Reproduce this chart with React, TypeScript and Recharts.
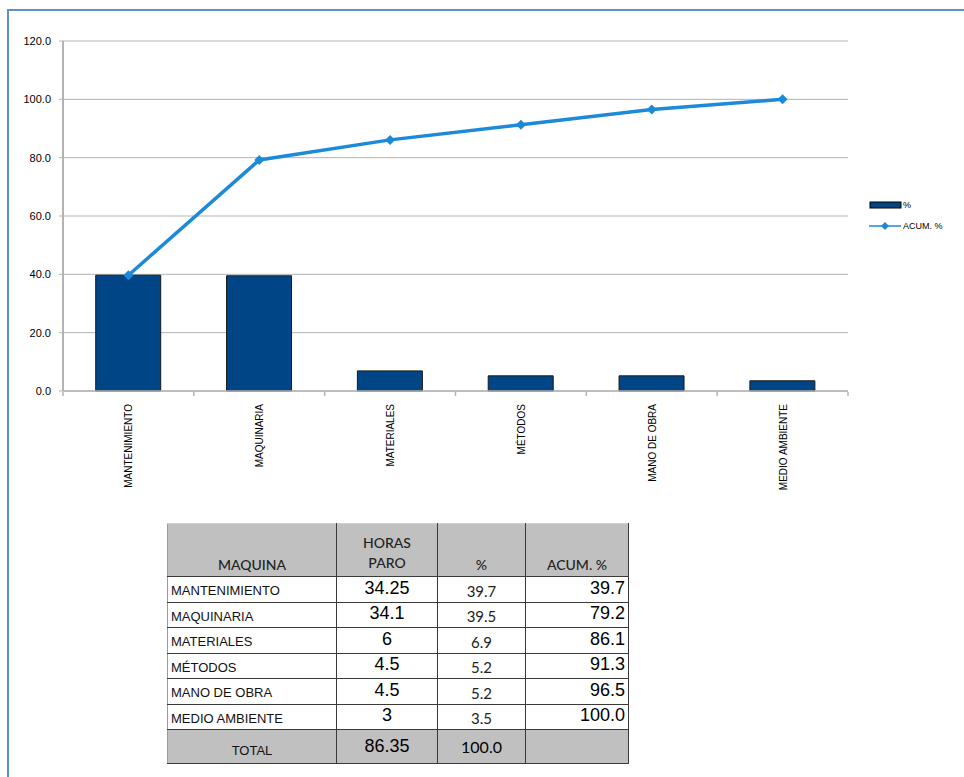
import { ComposedChart, Bar, Line, XAxis, YAxis, CartesianGrid } from 'recharts'

const categories = ['MANTENIMIENTO', 'MAQUINARIA', 'MATERIALES', 'MÉTODOS', 'MANO DE OBRA', 'MEDIO AMBIENTE']
const horas = ['34.25', '34.1', '6', '4.5', '4.5', '3']
const pct = [39.7, 39.5, 6.9, 5.2, 5.2, 3.5]
const acum = [39.7, 79.2, 86.1, 91.3, 96.5, 100.0]
const yTicks = [0, 20, 40, 60, 80, 100, 120]
const totalHoras = '86.35'
const totalPct = '100.0'

const data = categories.map((name, i) => ({ name, pct: pct[i], acum: acum[i] }))

const BAR = '#004586'
const LINE = '#1c8ad8'
const GRID = '#b3b3b3'
const ARIAL = '"Liberation Sans", Arial, sans-serif'
const CALIBRI = 'Lato, "Open Sans", sans-serif'

const CHART_W = 964
const PLOT_LEFT = 63
const PLOT_RIGHT = 848
const band = (PLOT_RIGHT - PLOT_LEFT) / categories.length

function XTick({ x, y, payload, index }: any) {
  return (
    <g>
      <line x1={x - band / 2} y1={y - 7} x2={x - band / 2} y2={y - 3} stroke={GRID} strokeWidth={1.5} />
      {index === categories.length - 1 && (
        <line x1={x + band / 2} y1={y - 7} x2={x + band / 2} y2={y - 3} stroke={GRID} strokeWidth={1.5} />
      )}
      <text
        x={0}
        y={0}
        transform={`translate(${x + 4},${y + 5}) rotate(-90)`}
        textAnchor="end"
        fontSize={10}
        fontFamily={ARIAL}
        fill="#000"
      >
        {payload.value}
      </text>
    </g>
  )
}

function Diamond({ cx, cy }: any) {
  if (cx == null || cy == null) return null
  const r = 5
  return <path d={`M${cx},${cy - r}L${cx + r},${cy}L${cx},${cy + r}L${cx - r},${cy}Z`} fill={LINE} />
}

function LegendBox() {
  return (
    <div style={{ position: 'absolute', left: 869, top: 198, fontFamily: ARIAL, fontSize: 9, color: '#000' }}>
      <div style={{ display: 'flex', alignItems: 'center', height: 14 }}>
        <svg width={34} height={10}>
          <rect x={1} y={2} width={31} height={6} fill={BAR} stroke="#000" strokeWidth={1} />
        </svg>
        <span>%</span>
      </div>
      <div style={{ display: 'flex', alignItems: 'center', height: 14, marginTop: 7 }}>
        <svg width={34} height={10}>
          <line x1={0} y1={5} x2={32} y2={5} stroke={LINE} strokeWidth={1.5} />
          <path d="M16,1L20,5L16,9L12,5Z" fill={LINE} />
        </svg>
        <span>ACUM. %</span>
      </div>
    </div>
  )
}

const cell: React.CSSProperties = {
  borderBottom: '1px solid #3a3a3a',
  borderRight: '1px solid #3a3a3a',
  padding: '0 3px',
  whiteSpace: 'nowrap',
}

export default function App() {
  return (
    <div style={{ position: 'absolute', left: 0, top: 0, width: 964, height: 777, background: '#fff', overflow: 'hidden' }}>
      <div
        style={{
          position: 'absolute',
          left: 7,
          top: 9,
          width: 970,
          height: 790,
          borderTop: '2px solid #5f8fcd',
          borderLeft: '2px solid #5f8fcd',
        }}
      />
      <div style={{ position: 'absolute', left: 0, top: 0 }}>
        <ComposedChart
          width={CHART_W}
          height={520}
          data={data}
          margin={{ top: 41, right: CHART_W - PLOT_RIGHT, bottom: 0, left: 13 }}
          barCategoryGap="25%"
        >
          <CartesianGrid vertical={false} stroke={GRID} strokeWidth={1} />
          <XAxis
            dataKey="name"
            height={129}
            axisLine={{ stroke: GRID, strokeWidth: 1.5 }}
            tickLine={false}
            tick={<XTick />}
            interval={0}
          />
          <YAxis
            domain={[0, 120]}
            ticks={yTicks}
            width={50}
            tickFormatter={(v: number) => v.toFixed(1)}
            tick={{ fontSize: 11, fontFamily: ARIAL, fill: '#000' }}
            axisLine={{ stroke: GRID, strokeWidth: 2 }}
            tickLine={{ stroke: GRID }}
            tickSize={4}
            tickMargin={8}
          />
          <YAxis
            yAxisId="frame"
            orientation="right"
            width={0}
            domain={[0, 120]}
            tick={false}
            tickLine={false}
            axisLine={{ stroke: '#c8c8c8', strokeWidth: 2 }}
          />
          <Bar dataKey="pct" name="%" fill={BAR} stroke="#1a1a1a" strokeWidth={1} isAnimationActive={false} />
          <Line
            dataKey="acum"
            name="ACUM. %"
            stroke={LINE}
            strokeWidth={3.5}
            dot={<Diamond />}
            activeDot={false}
            isAnimationActive={false}
          />
        </ComposedChart>
      </div>
      <LegendBox />

      <table
        style={{
          position: 'absolute',
          left: 167,
          top: 523,
          borderCollapse: 'collapse',
          tableLayout: 'fixed',
          width: 461,
          borderLeft: '1px solid #9a9a9a',
          borderTop: '1px solid #d0d0d0',
        }}
      >
        <colgroup>
          <col style={{ width: 169 }} />
          <col style={{ width: 101 }} />
          <col style={{ width: 88 }} />
          <col style={{ width: 103 }} />
        </colgroup>
        <thead>
          <tr style={{ height: 53, background: '#c0c0c0', fontFamily: CALIBRI, fontSize: 14, color: '#222' }}>
            <th style={{ ...cell, fontWeight: 500, verticalAlign: 'bottom', textAlign: 'center', paddingBottom: 3 }}>
              MAQUINA
            </th>
            <th style={{ ...cell, fontWeight: 500, verticalAlign: 'bottom', textAlign: 'center', paddingBottom: 3, lineHeight: '20px' }}>
              HORAS
              <br />
              PARO
            </th>
            <th style={{ ...cell, fontWeight: 500, verticalAlign: 'bottom', textAlign: 'center', paddingBottom: 3 }}>%</th>
            <th style={{ ...cell, fontWeight: 500, verticalAlign: 'bottom', textAlign: 'center', paddingBottom: 3 }}>
              ACUM. %
            </th>
          </tr>
        </thead>
        <tbody>
          {categories.map((name, i) => (
            <tr key={name} style={{ height: 25.5 }}>
              <td style={{ ...cell, fontFamily: ARIAL, fontSize: 13, color: '#111', paddingTop: 3 }}>{name}</td>
              <td style={{ ...cell, fontFamily: ARIAL, fontSize: 18, textAlign: 'center', color: '#000', paddingBottom: 2 }}>{horas[i]}</td>
              <td style={{ ...cell, fontFamily: CALIBRI, fontSize: 15, textAlign: 'center', color: '#222', paddingTop: 3 }}>
                {pct[i].toFixed(1)}
              </td>
              <td style={{ ...cell, fontFamily: ARIAL, fontSize: 18, textAlign: 'right', color: '#000', paddingBottom: 2 }}>
                {acum[i].toFixed(1)}
              </td>
            </tr>
          ))}
          <tr style={{ height: 34, background: '#c0c0c0' }}>
            <td style={{ ...cell, fontFamily: ARIAL, fontSize: 13, textAlign: 'center', color: '#111', paddingTop: 8 }}>TOTAL</td>
            <td style={{ ...cell, fontFamily: ARIAL, fontSize: 18, textAlign: 'center', color: '#000' }}>{totalHoras}</td>
            <td style={{ ...cell, fontFamily: CALIBRI, fontSize: 16, textAlign: 'center', color: '#000' }}>{totalPct}</td>
            <td style={cell}></td>
          </tr>
        </tbody>
      </table>
    </div>
  )
}
